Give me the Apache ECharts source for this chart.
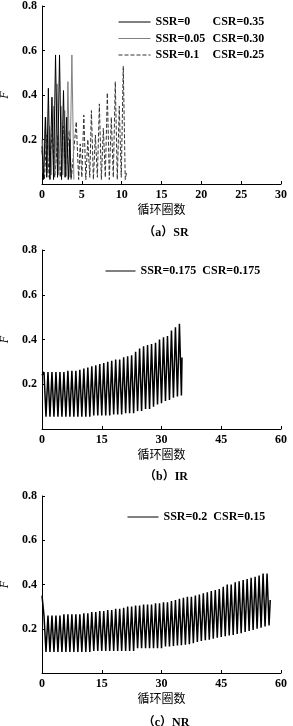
<!DOCTYPE html>
<html>
<head>
<meta charset="utf-8">
<script src="https://cdn.jsdelivr.net/npm/echarts@6/dist/echarts.min.js"></script>
<style>
  html, body { margin: 0; padding: 0; background: #fff; }
  #chart { width: 293px; height: 726px; }
</style>
</head>
<body>
<div id="chart"></div>
<script>
// (a) SR - [cycle, F]
const srBlack = [[0, 0.17], [0.2, 0.02], [0.45, 0.3], [0.6, 0.03], [0.8, 0.43], [1.0, 0.02], [1.25, 0.39], [1.45, 0.02],
  [1.7, 0.58], [1.95, 0.03], [2.2, 0.58], [2.45, 0.02], [2.7, 0.42], [2.9, 0.03], [3.1, 0.3], [3.3, 0.02], [3.5, 0.2], [3.65, 0.02]];
const srGray = [[0, 0.2], [0.15, 0.05], [0.4, 0.3], [0.65, 0.05], [0.95, 0.26], [1.15, 0.04], [1.45, 0.35], [1.6, 0.05],
  [1.9, 0.45], [2.1, 0.04], [2.4, 0.35], [2.6, 0.04], [2.85, 0.33], [3.05, 0.04], [3.25, 0.46], [3.5, 0.03], [3.75, 0.58], [4.0, 0.02]];
const srDash = [[0, 0.15], [0.3, 0.02], [0.6, 0.22], [0.9, 0.03], [1.3, 0.25], [1.6, 0.03], [2.0, 0.22], [2.3, 0.03],
  [2.7, 0.26], [3.0, 0.03], [3.4, 0.24], [3.7, 0.03], [4.3, 0.28], [4.6, 0.02], [4.8, 0.18], [5.0, 0.03],
  [5.25, 0.31], [5.5, 0.02], [5.75, 0.2], [6.0, 0.03], [6.2, 0.33], [6.45, 0.02], [6.7, 0.22], [6.95, 0.03],
  [7.2, 0.36], [7.45, 0.02], [7.7, 0.25], [7.95, 0.03], [8.2, 0.41], [8.45, 0.02], [8.7, 0.3], [8.95, 0.03],
  [9.2, 0.46], [9.45, 0.02], [9.7, 0.35], [9.95, 0.03], [10.2, 0.53], [10.45, 0.02], [10.6, 0.05]];
const srNames = ['SSR=0|CSR=0.35', 'SSR=0.05|CSR=0.30', 'SSR=0.1|CSR=0.25'];

// (b) IR - peak / trough of every cycle
const irStart = [0, 0.24];
const irPeaks = [0.255, 0.255, 0.255, 0.255, 0.255, 0.255, 0.26, 0.26, 0.26, 0.265, 0.27, 0.275, 0.28, 0.285, 0.29,
  0.295, 0.3, 0.305, 0.31, 0.31, 0.32, 0.325, 0.33, 0.345, 0.36, 0.37, 0.375, 0.38, 0.385, 0.4, 0.41, 0.415, 0.44, 0.455, 0.47];
const irTroughs = [0.055, 0.055, 0.055, 0.055, 0.055, 0.055, 0.055, 0.055, 0.055, 0.055, 0.055, 0.055, 0.06, 0.06, 0.06,
  0.06, 0.06, 0.065, 0.065, 0.065, 0.07, 0.07, 0.07, 0.08, 0.08, 0.09, 0.09, 0.1, 0.11, 0.115, 0.125, 0.13, 0.14, 0.145, 0.15];
const irEnd = [35.15, 0.32];
const irName = 'SSR=0.175  CSR=0.175';

// (c) NR
const nrStart = [0, 0.35];
const nrPeaks = [0.26, 0.26, 0.26, 0.26, 0.26, 0.265, 0.265, 0.265, 0.265, 0.265, 0.27, 0.27, 0.275, 0.275, 0.28,
  0.28, 0.285, 0.285, 0.29, 0.29, 0.295, 0.3, 0.3, 0.305, 0.305, 0.31, 0.31, 0.31, 0.315, 0.315,
  0.32, 0.32, 0.325, 0.33, 0.335, 0.34, 0.345, 0.345, 0.35, 0.355, 0.36, 0.365, 0.37, 0.375, 0.38,
  0.39, 0.4, 0.4, 0.41, 0.415, 0.42, 0.425, 0.43, 0.435, 0.44, 0.45, 0.45];
const nrTroughs = [0.095, 0.095, 0.095, 0.095, 0.095, 0.095, 0.095, 0.095, 0.095, 0.095, 0.095, 0.095, 0.1, 0.1, 0.1,
  0.1, 0.1, 0.1, 0.1, 0.1, 0.1, 0.1, 0.1, 0.112, 0.112, 0.112, 0.112, 0.112, 0.112, 0.112,
  0.12, 0.12, 0.122, 0.124, 0.126, 0.128, 0.13, 0.135, 0.14, 0.145, 0.148, 0.15, 0.155, 0.16, 0.163,
  0.166, 0.17, 0.172, 0.176, 0.18, 0.185, 0.19, 0.195, 0.2, 0.205, 0.21, 0.215];
const nrEnd = [57.3, 0.33];
const nrName = 'SSR=0.2  CSR=0.15';

const yTicks = [0, 0.8, 0.2];
const serif = 'Liberation Serif';

function buildCycles(start, peaks, troughs, end) {
  const pts = [start];
  for (let i = 0; i < peaks.length; i++) {
    pts.push([i + 0.5, peaks[i]]);
    pts.push([i + 1, troughs[i]]);
  }
  pts.push(end);
  return pts;
}

function xAxis(idx, max, interval) {
  return {
    type: 'value', gridIndex: idx, min: 0, max: max, interval: interval,
    name: '循环圈数', nameLocation: 'middle', nameGap: 19,
    nameTextStyle: { fontFamily: 'Noto Sans CJK SC', fontSize: 12, color: '#000' },
    axisLine: { lineStyle: { color: '#000', width: 1 } },
    axisTick: { inside: true, length: 3, lineStyle: { color: '#000' } },
    axisLabel: { margin: 5, color: '#000', fontFamily: serif, fontWeight: 'bold', fontSize: 12 },
    splitLine: { show: false }
  };
}

function yAxis(idx) {
  return {
    type: 'value', gridIndex: idx, min: yTicks[0], max: yTicks[1], interval: yTicks[2],
    name: 'F', nameLocation: 'middle', nameGap: 29,
    nameTextStyle: { fontFamily: serif, fontStyle: 'italic', fontSize: 12, color: '#000' },
    axisLine: { show: true, lineStyle: { color: '#000', width: 1 } },
    axisTick: { show: true, inside: true, length: 3, lineStyle: { color: '#000' } },
    axisLabel: { showMinLabel: false, margin: 5, color: '#000', fontFamily: serif, fontWeight: 'bold', fontSize: 12 },
    splitLine: { show: false }
  };
}

function lineSeries(name, idx, data, color, type, width) {
  return {
    name: name, type: 'line', xAxisIndex: idx, yAxisIndex: idx, data: data,
    symbol: 'none', showSymbol: false, animation: false,
    lineStyle: { color: color, width: width, type: type },
    itemStyle: { color: color }
  };
}

const legendText = { fontFamily: serif, fontWeight: 'bold', fontSize: 12, color: '#000' };
const titleText = { fontFamily: serif + ', Noto Sans CJK SC', fontSize: 12, fontWeight: 'bold', color: '#000' };
// hide the symbol in the legend icon, keep only a thin line
const legendItem = { opacity: 0, borderWidth: 0 };
const legendLine = { width: 1 };

const option = {
  backgroundColor: '#fff',
  animation: false,
  title: [
    { text: '（a）SR', left: 161, top: 222, textAlign: 'center', textStyle: titleText },
    { text: '（b）IR', left: 161, top: 466, textAlign: 'center', textStyle: titleText },
    { text: '（c）NR', left: 161, top: 712, textAlign: 'center', textStyle: titleText }
  ],
  grid: [
    { left: 42, right: 12, top: 6, height: 178, outerBoundsMode: 'none' },
    { left: 42, right: 12, top: 250, height: 179, outerBoundsMode: 'none' },
    { left: 42, right: 12, top: 496, height: 177, outerBoundsMode: 'none' }
  ],
  legend: [
    {
      data: srNames, orient: 'vertical', left: 113, top: 11, itemWidth: 32, itemHeight: 14, itemGap: 4.5,
      itemStyle: legendItem, lineStyle: legendLine,
      textStyle: Object.assign({}, legendText, {
        rich: {
          a: { width: 57, fontFamily: serif, fontWeight: 'bold', fontSize: 12, color: '#000' },
          b: { fontFamily: serif, fontWeight: 'bold', fontSize: 12, color: '#000' }
        }
      }),
      formatter: function (name) {
        const p = name.split('|');
        return '{a|' + p[0] + '}{b|' + p[1] + '}';
      }
    },
    { data: [irName], left: 100, top: 260, itemWidth: 30, itemHeight: 14, itemStyle: legendItem, lineStyle: legendLine, textStyle: legendText },
    { data: [nrName], left: 122, top: 506, itemWidth: 31, itemHeight: 14, itemStyle: legendItem, lineStyle: legendLine, textStyle: legendText }
  ],
  xAxis: [xAxis(0, 30, 5), xAxis(1, 60, 15), xAxis(2, 60, 15)],
  yAxis: [yAxis(0), yAxis(1), yAxis(2)],
  series: [
    lineSeries(srNames[2], 0, srDash, '#333', 'dashed', 1),
    lineSeries(srNames[1], 0, srGray, '#808080', 'solid', 1),
    lineSeries(srNames[0], 0, srBlack, '#000', 'solid', 1),
    lineSeries(irName, 1, buildCycles(irStart, irPeaks, irTroughs, irEnd), '#000', 'solid', 1.5),
    lineSeries(nrName, 2, buildCycles(nrStart, nrPeaks, nrTroughs, nrEnd), '#000', 'solid', 1.5)
  ]
};

const myChart = echarts.init(document.getElementById('chart'));
myChart.setOption(option);
</script>
</body>
</html>
